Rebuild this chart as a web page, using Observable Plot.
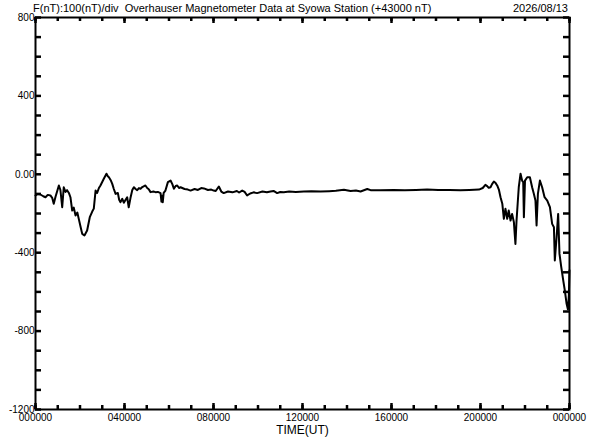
<!DOCTYPE html>
<html>
<head>
<meta charset="utf-8">
<script src="https://cdn.jsdelivr.net/npm/d3@7"></script>
<script src="https://cdn.jsdelivr.net/npm/@observablehq/plot@0.6"></script>
<style>
  html, body { margin: 0; padding: 0; background: #fff; }
  #wrap { position: relative; width: 592px; height: 440px; font-family: "Liberation Sans", Arial, sans-serif; }
  #title { position: absolute; left: 33px; top: 3px; font-size: 11px; line-height: 11px; color: #000; white-space: pre; }
  #date { position: absolute; right: 24px; top: 3px; font-size: 11px; line-height: 11px; color: #000; }
  svg [aria-label="x-axis label"] text { font-size: 12px; }
</style>
</head>
<body>
<div id="wrap">
  <div id="chart"></div>
  <div id="title"></div>
  <div id="date"></div>
</div>
<script>
const titleText = "F(nT):100(nT)/div  Overhauser Magnetometer Data at Syowa Station (+43000 nT)";
const dateText = "2026/08/13";

// time in hours UT
const hours = [
  0.00,0.10,0.22,0.35,0.45,0.55,0.67,0.75,0.82,0.90,1.05,1.12,1.20,1.27,1.35,1.42,1.50,1.57,1.65,1.72,
  1.80,1.88,1.95,2.03,2.10,2.20,2.32,2.44,2.55,2.62,2.70,2.77,2.85,2.92,3.07,3.19,3.25,3.30,3.38,3.45,
  3.52,3.60,3.70,3.76,3.82,3.90,3.97,4.05,4.12,4.19,4.27,4.35,4.42,4.50,4.57,4.65,4.72,4.80,4.94,5.02,
  5.09,5.17,5.30,5.39,5.50,5.62,5.66,5.69,5.72,5.76,5.84,5.95,6.07,6.15,6.22,6.30,6.37,6.45,6.52,6.70,
  6.85,6.97,7.15,7.30,7.45,7.57,7.75,7.90,8.01,8.10,8.24,8.35,8.46,8.65,8.85,9.05,9.15,9.29,9.40,9.51,
  9.65,9.80,9.96,10.20,10.40,10.56,10.70,10.86,11.00,11.16,11.40,11.70,12.06,12.40,12.81,13.20,13.50,13.86,14.16,14.40,
  14.61,14.91,15.06,15.50,16.10,16.60,17.10,17.60,18.10,18.60,19.10,19.50,19.93,20.10,20.22,20.30,20.37,20.45,20.52,20.60,
  20.68,20.75,20.83,20.90,20.98,21.05,21.12,21.20,21.27,21.35,21.42,21.50,21.57,21.62,21.67,21.72,21.80,21.87,21.92,21.95,
  22.00,22.10,22.22,22.32,22.40,22.47,22.52,22.58,22.67,22.77,22.88,23.00,23.12,23.22,23.30,23.34,23.42,23.49,23.55,23.63,
  23.72,23.79,23.87,23.93,23.97,24.00
];
// total field minus 43000 nT
const fieldNT = [
  -108,-100,-103,-112,-117,-105,-108,-120,-150,-115,-57,-80,-168,-66,-90,-81,-95,-117,-185,-170,
  -210,-195,-230,-270,-304,-312,-287,-219,-190,-175,-83,-95,-70,-57,-23,3,-10,-15,-30,-49,
  -75,-100,-95,-130,-142,-125,-145,-130,-117,-168,-120,-80,-66,-75,-81,-70,-74,-65,-57,-70,
  -76,-91,-88,-91,-90,-96,-140,-110,-142,-95,-83,-40,-32,-50,-74,-60,-57,-70,-66,-75,
  -78,-83,-75,-80,-70,-72,-80,-78,-83,-85,-62,-88,-96,-88,-92,-85,-93,-83,-90,-108,
  -98,-92,-96,-88,-92,-88,-85,-96,-90,-91,-88,-90,-88,-86,-88,-86,-84,-79,-85,-83,
  -88,-75,-81,-82,-80,-82,-80,-78,-80,-80,-82,-80,-78,-70,-54,-60,-69,-66,-50,-37,
  -45,-57,-80,-117,-150,-227,-176,-227,-185,-236,-202,-244,-355,-236,-150,-66,3,-32,-40,-219,
  -32,-15,-15,-66,-100,-134,-261,-100,-32,-66,-117,-134,-168,-253,-270,-440,-321,-202,-406,-474,
  -542,-593,-661,-690,-620,-490
];

const yLabelTicks = [800, 400, 0, -400, -800, -1200];
const yMinorTicks = d3.range(-1200, 801, 100);
const xLabelTicks = [0, 4, 8, 12, 16, 20, 24];
const xMinorTicks = d3.range(0, 25, 1);

const xDomain = [0, 24], yDomain = [-1200, 800];
const data = hours.map((h, i) => ({h, v: fieldNT[i]}));

document.getElementById("title").textContent = titleText;
document.getElementById("date").textContent = dateText;

const fmtX = h => String(h % 24).padStart(2, "0") + "0000";
const fmtY = v => v === 0 ? "0.00" : String(v);

const W = 592, H = 440, mL = 35, mR = 23, mT = 17, mB = 31;
const plotW = W - mL - mR, plotH = H - mT - mB;
// tick lengths in pixels converted to data units
const hPerPx = (xDomain[1] - xDomain[0]) / plotW;
const nTPerPx = (yDomain[1] - yDomain[0]) / plotH;
const yTickLen = 6 * hPerPx;
const xMinorLen = 4 * nTPerPx, xMajorLen = 6 * nTPerPx;
const tk = { stroke: "#000", strokeWidth: 2.5 };

const chart = Plot.plot({
  width: W,
  height: H,
  marginLeft: mL,
  marginRight: mR,
  marginTop: mT,
  marginBottom: mB,
  style: { fontFamily: "Liberation Sans, Arial, sans-serif", fontSize: "10px", background: "#fff", color: "#000" },
  x: { domain: xDomain },
  y: { domain: yDomain },
  marks: [
    Plot.line(data, { x: "h", y: "v", stroke: "#000", strokeWidth: 2, strokeLinejoin: "round" }),
    Plot.frame({ stroke: "#000", strokeWidth: 2 }),
    // inward ticks
    Plot.ruleY(yMinorTicks, { y: d => d, x1: xDomain[0], x2: xDomain[0] + yTickLen, ...tk }),
    Plot.ruleY(yMinorTicks, { y: d => d, x1: xDomain[1] - yTickLen, x2: xDomain[1], ...tk }),
    Plot.ruleX(xMinorTicks, { x: d => d, y1: yDomain[0], y2: yDomain[0] + xMinorLen, ...tk }),
    Plot.ruleX(xLabelTicks, { x: d => d, y1: yDomain[0], y2: yDomain[0] + xMajorLen, ...tk }),
    Plot.ruleX(xMinorTicks, { x: d => d, y1: yDomain[1] - xMinorLen, y2: yDomain[1], ...tk }),
    Plot.ruleX(xLabelTicks, { x: d => d, y1: yDomain[1] - xMajorLen, y2: yDomain[1], ...tk }),
    // labels
    Plot.axisY(yLabelTicks, { anchor: "left", tickSize: 0, tickPadding: 1, tickFormat: fmtY, label: null }),
    Plot.axisX(xLabelTicks, { anchor: "bottom", tickSize: 0, tickPadding: 4, tickFormat: fmtX, label: "TIME(UT)", labelAnchor: "center", labelArrow: "none", labelOffset: 24 })
  ]
});
document.getElementById("chart").appendChild(chart);
</script>
</body>
</html>
